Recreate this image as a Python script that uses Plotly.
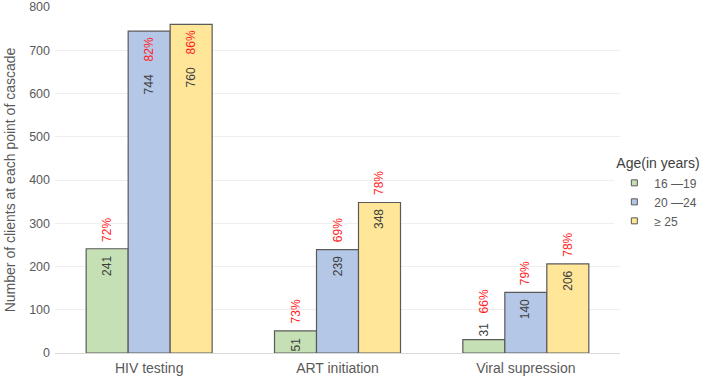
import plotly.graph_objects as go

categories = ["HIV testing", "ART initiation", "Viral supression"]
groups = ["16 \u201419", "20 \u201424", "\u2265 25"]
values_16_19 = [241, 51, 31]
values_20_24 = [744, 239, 140]
values_25 = [760, 348, 206]
pct_16_19 = ["72%", "73%", "66%"]
pct_20_24 = ["82%", "69%", "79%"]
pct_25 = ["86%", "78%", "78%"]
y_ticks = [0, 100, 200, 300, 400, 500, 600, 700, 800]

series = [values_16_19, values_20_24, values_25]
pcts = [pct_16_19, pct_20_24, pct_25]
colors = ["#C5E0B4", "#B4C7E7", "#FFE699"]

bw = 0.223
fig = go.Figure()
annotations = []
for j, (name, vals, pc, col) in enumerate(zip(groups, series, pcts, colors)):
    xs = [i + (j - 1) * bw for i in range(len(categories))]
    fig.add_trace(go.Bar(
        x=xs, y=vals, width=bw, name=name, showlegend=False,
        marker=dict(color=col, line=dict(color="#5A5A5A", width=1.2)),
        hoverinfo="y",
    ))
    for x, v, p in zip(xs, vals, pc):
        if v > 700:
            annotations.append(dict(x=x, y=v, text=p, textangle=-90, showarrow=False,
                                    yanchor="top", yshift=-4, font=dict(color="#FF1E1E", size=12)))
            annotations.append(dict(x=x, y=v, text=str(v), textangle=-90, showarrow=False,
                                    yanchor="top", yshift=-41, font=dict(color="#404040", size=12)))
        elif v > 40:
            annotations.append(dict(x=x, y=v, text=str(v), textangle=-90, showarrow=False,
                                    yanchor="top", yshift=-5, font=dict(color="#404040", size=12)))
            annotations.append(dict(x=x, y=v, text=p, textangle=-90, showarrow=False,
                                    yanchor="bottom", yshift=5, font=dict(color="#FF1E1E", size=12)))
        else:
            annotations.append(dict(x=x, y=v, text=str(v), textangle=-90, showarrow=False,
                                    yanchor="bottom", yshift=1, font=dict(color="#404040", size=12)))
            annotations.append(dict(x=x, y=v, text=p, textangle=-90, showarrow=False,
                                    yanchor="bottom", yshift=24, font=dict(color="#FF1E1E", size=12)))
    # legend entry with small square symbol
    fig.add_trace(go.Scatter(
        x=[None], y=[None], mode="markers", name=name,
        marker=dict(symbol="square", size=6, color=col, line=dict(color="#595959", width=1)),
    ))

fig.update_layout(
    width=709, height=378,
    margin=dict(l=55, r=76, t=7, b=25),
    paper_bgcolor="white", plot_bgcolor="white",
    font=dict(family="Liberation Sans, Arial, sans-serif", color="#595959"),
    barmode="overlay",
    showlegend=True,
    legend=dict(
        title=dict(text="Age(in years)", font=dict(size=14, color="#404040")),
        x=0.99, xanchor="left", y=0.462, yanchor="middle",
        font=dict(size=12, color="#595959"),
        tracegroupgap=0, itemwidth=30,
    ),
    annotations=annotations,
    xaxis=dict(
        tickmode="array", tickvals=list(range(len(categories))), ticktext=categories,
        range=[-0.5, len(categories) - 0.5],
        showgrid=False, zeroline=False, showline=False, automargin=False,
        tickfont=dict(size=14, color="#595959"), ticks="", ticklabelstandoff=5,
    ),
    yaxis=dict(
        range=[0, 800], tickvals=y_ticks, automargin=False,
        showgrid=True, gridcolor="#EEEEEE", gridwidth=1,
        zeroline=True, zerolinecolor="#D9D9D9", zerolinewidth=1,
        tickfont=dict(size=12.5, color="#595959"), ticklabelstandoff=4,
        title=dict(text="Number of clients at each point of cascade", font=dict(size=14, color="#595959"), standoff=10),
    ),
)

fig.write_html("out.html", config={"displayModeBar": False},
               post_script="document.body.style.margin='0';document.body.style.overflow='hidden';")
